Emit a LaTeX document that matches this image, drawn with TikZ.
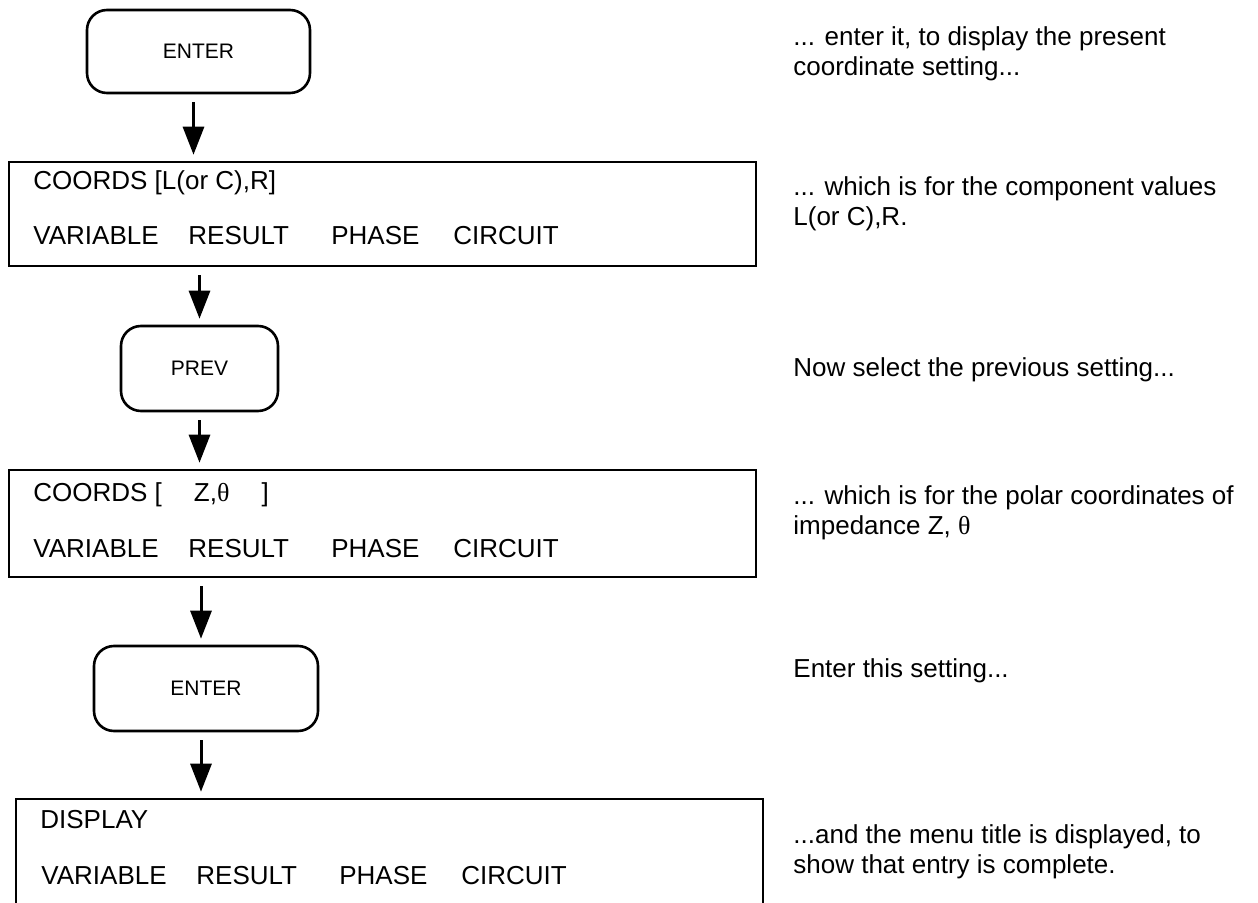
\documentclass[tikz,border=0pt]{standalone}
\usepackage{fontspec}
\setmainfont{Liberation Sans}
\newfontfamily\greekfont{Liberation Serif}
\usetikzlibrary{arrows.meta}

% the soft-key row shown on every screen
\newcommand{\menuline}{\makebox[77.5pt][l]{VARIABLE}\makebox[71.5pt][l]{RESULT}\makebox[61pt][l]{PHASE}CIRCUIT}
\newcommand{\thetasym}{{\greekfont θ}}

\tikzset{
  keybox/.style={draw, line width=1.3pt, rounded corners=10pt, font=\fontsize{10.5}{12}\selectfont},
  screen/.style={draw, line width=1.3pt, minimum width=373.5pt},
  menutext/.style={anchor=base west, inner sep=0pt, font=\fontsize{13}{15}\selectfont},
  note/.style={anchor=base west, inner sep=0pt, align=left, font=\fontsize{13}{15}\selectfont},
  flow/.style={line width=1.5pt, -{Triangle[width=10.5pt,length=14pt]}, shorten <=4pt, shorten >=3pt}
}

\begin{document}
\begin{tikzpicture}[x=0.5pt, y=-0.5pt]
	\path[use as bounding box] (0,0) rectangle (1258,903);
	\clip (0,0) rectangle (1258,903);

	% keys
	\node[keybox, minimum width=111.5pt, minimum height=41.5pt] (enter1) at (198.5,51.5) {ENTER};
	\node[keybox, minimum width=78.5pt, minimum height=42.5pt] (prev) at (199.5,368.5) {PREV};
	\node[keybox, minimum width=112pt, minimum height=42.5pt] (enter2) at (206,688.5) {ENTER};

	% screens
	\node[screen, minimum height=52pt] (coordlc) at (382.5,214) {};
	\node[screen, minimum height=53.5pt] (coordz) at (382.5,523.5) {};
	\node[screen, minimum height=55.5pt] (display) at (389.5,854.5) {};

	% screen texts
	\node[menutext] (lc title) at (33,190) {COORDS [L(or C),R]};
	\node[menutext] (lc menu) at (33,245) {\menuline};
	\node[menutext] (z title) at (33,502) {COORDS [\hspace{16pt}Z,\thetasym\hspace{16pt}]};
	\node[menutext] (z menu) at (33,557) {\menuline};
	\node[menutext] (display title) at (40,828) {DISPLAY};
	\node[menutext] (display menu) at (41,884) {\menuline};

	% arrows
	\draw[flow] ([xshift=-2.5pt]enter1.south) -- ([xshift=-2.5pt]enter1.south |- coordlc.north);
	\draw[flow] (coordlc.south -| prev) -- (prev.north);
	\draw[flow] (prev.south) -- (prev.south |- coordz.north);
	\draw[flow] ([xshift=-2.5pt]coordz.south -| enter2) -- ([xshift=-2.5pt]enter2.north);
	\draw[flow] ([xshift=-2.5pt]enter2.south) -- ([xshift=-2.5pt]enter2.south |- display.north);

	% notes (placed at the baseline of their last line)
	\node[note] (note enter) at (793,76) {... enter it, to display the present\\coordinate setting...};
	\node[note] (note lc) at (793,226) {... which is for the component values\\L(or C),R.};
	\node[note] (note prev) at (793,377) {Now select the previous setting...};
	\node[note] (note z) at (793,534) {... which is for the polar coordinates of\\impedance Z, \thetasym};
	\node[note] (note enter2) at (793,677) {Enter this setting...};
	\node[note] (note display) at (793,873) {...and the menu title is displayed, to\\show that entry is complete.};
\end{tikzpicture}
\end{document}
